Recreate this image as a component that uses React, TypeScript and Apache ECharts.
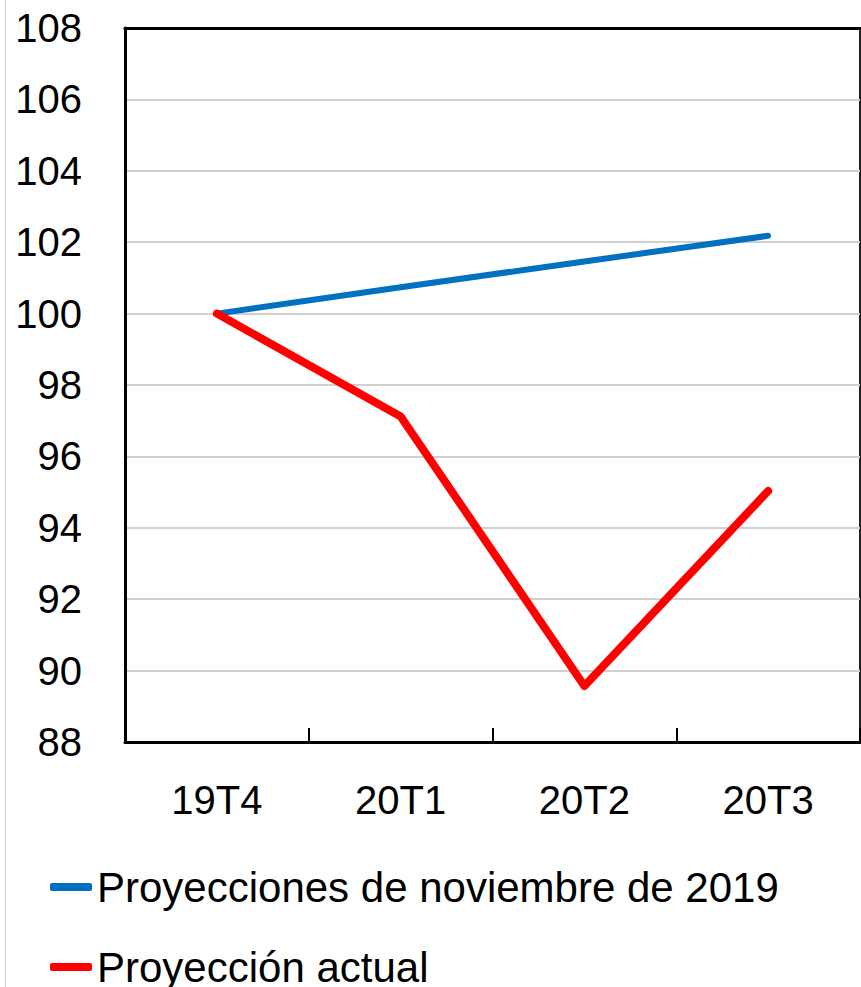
import React, { useEffect, useRef } from "react";
import * as echarts from "echarts";

const categories = ["19T4", "20T1", "20T2", "20T3"];
const seriesNov2019 = [100, 100.74, 101.46, 102.18];
const seriesActual = [100, 97.12, 89.57, 95.03];
const yTicks = { min: 88, max: 108, interval: 2 };
const seriesNames = ["Proyecciones de noviembre de 2019", "Proyección actual"];

const FONT = "'Liberation Sans', Arial, sans-serif";

export default function App() {
  const ref = useRef<HTMLDivElement>(null);
  useEffect(() => {
    document.body.style.margin = "0";
    if (!ref.current) return;
    const chart = echarts.init(ref.current, undefined, { renderer: "svg" });
    chart.setOption({
      animation: false,
      backgroundColor: "#ffffff",
      grid: {
        left: 125,
        top: 28,
        right: 1,
        bottom: 245,
        show: true,
        borderColor: "#222",
        borderWidth: 2,
        backgroundColor: "transparent",
      },
      legend: {
        orient: "vertical",
        left: 45,
        top: 857,
        height: 300,
        itemWidth: 42,
        itemHeight: 8,
        itemGap: 30,
        icon: "roundRect",
        textStyle: {
          fontFamily: FONT,
          fontSize: 42,
          color: "#000",
          lineHeight: 50,
        },
        data: seriesNames,
      },
      xAxis: [
        {
          type: "category",
          data: categories,
          boundaryGap: true,
          axisLine: { show: true, lineStyle: { color: "#000", width: 3 } },
          axisTick: { show: true, inside: true, length: 14, lineStyle: { color: "#000", width: 2 } },
          axisLabel: { fontFamily: FONT, fontSize: 40, color: "#000", margin: 38 },
          splitLine: { show: false },
        },
        {
          type: "category",
          data: categories,
          position: "top",
          axisLine: { show: true, lineStyle: { color: "#000", width: 3 } },
          axisTick: { show: false },
          axisLabel: { show: false },
          splitLine: { show: false },
        },
      ],
      yAxis: {
        type: "value",
        min: yTicks.min,
        max: yTicks.max,
        interval: yTicks.interval,
        axisLine: { show: true, lineStyle: { color: "#000", width: 3 } },
        axisTick: { show: false },
        axisLabel: { fontFamily: FONT, fontSize: 40, color: "#000", margin: 43 },
        splitLine: { show: true, lineStyle: { color: "#d0d0d0", width: 2 } },
      },
      series: [
        {
          name: seriesNames[0],
          type: "line",
          data: seriesNov2019,
          symbol: "none",
          color: "#0070C0",
          lineStyle: { color: "#0070C0", width: 6, cap: "round", join: "round" },
          z: 3,
        },
        {
          name: seriesNames[1],
          type: "line",
          data: seriesActual,
          symbol: "none",
          color: "#FF0000",
          lineStyle: { color: "#FF0000", width: 8, cap: "round", join: "round" },
          z: 4,
        },
      ],
      graphic: [
        {
          type: "line",
          shape: { x1: 5.5, y1: 0, x2: 5.5, y2: 987 },
          style: { stroke: "#d0d0d0", lineWidth: 1 },
        },
      ],
    });
    return () => chart.dispose();
  }, []);
  return <div ref={ref} style={{ width: 861, height: 987 }} />;
}
